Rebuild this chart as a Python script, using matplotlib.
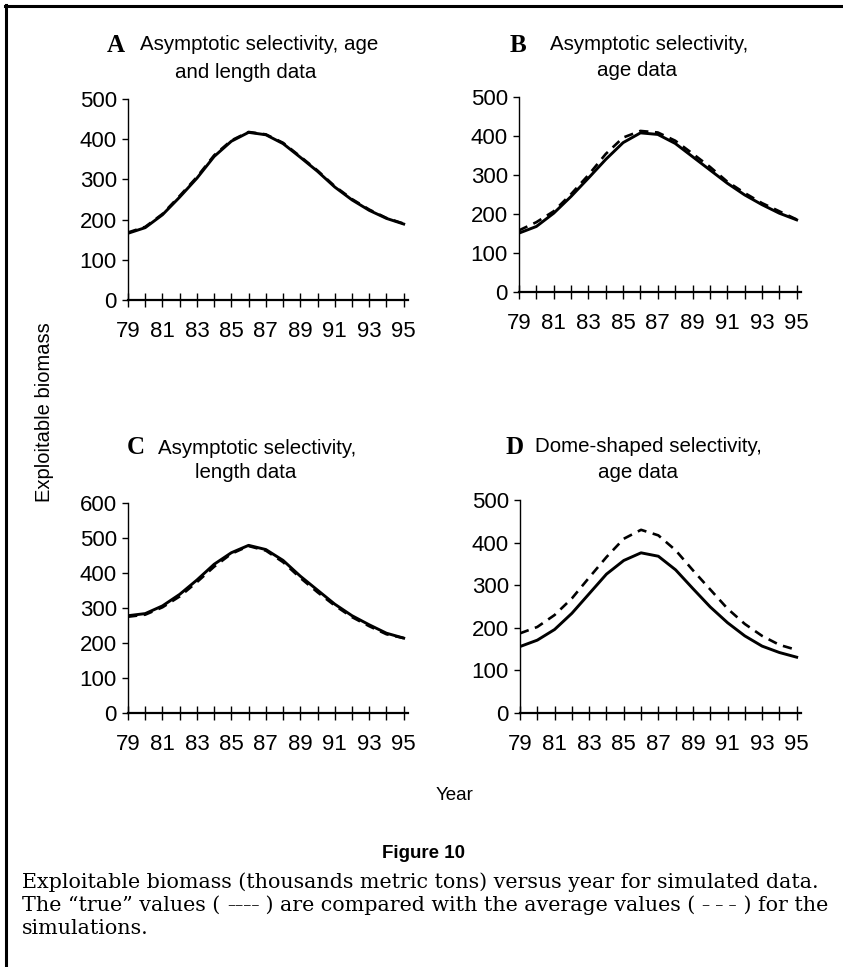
import matplotlib
matplotlib.use("Agg")
import matplotlib.pyplot as plt
from matplotlib.lines import Line2D

plt.rcParams['font.family'] = ['Liberation Sans', 'DejaVu Sans']

# data
years = list(range(79, 96))
a_true = [166, 180, 212, 256, 303, 357, 395, 417, 411, 389, 355, 320, 281, 249, 223, 203, 189]
a_avg = [168, 182, 214, 259, 306, 360, 397, 418, 412, 391, 357, 322, 283, 251, 225, 204, 190]
b_true = [151, 168, 202, 245, 292, 340, 383, 408, 404, 381, 347, 313, 279, 249, 224, 202, 185]
b_avg = [158, 179, 207, 251, 300, 354, 396, 413, 409, 388, 355, 321, 283, 254, 228, 207, 186]
c_true = [278, 284, 306, 339, 380, 425, 458, 479, 467, 436, 391, 351, 311, 278, 252, 228, 214]
c_avg = [275, 281, 302, 333, 374, 418, 455, 477, 464, 431, 386, 345, 307, 274, 248, 225, 214]
d_true = [156, 171, 196, 234, 280, 326, 358, 376, 368, 336, 292, 249, 212, 181, 157, 142, 131]
d_avg = [187, 202, 230, 269, 318, 366, 409, 430, 417, 382, 335, 290, 245, 209, 181, 160, 148]

W, H = 843, 967
fig = plt.figure(figsize=(W / 100, H / 100), dpi=100)


def fx(px):
    return px / W


def fy(py):
    return 1 - py / H


def panel(rect, true, avg, ymax):
    left, top, right, bottom = rect
    ax = fig.add_axes([fx(left), fy(bottom), fx(right) - fx(left), fy(top) - fy(bottom)])
    ax.plot(years, true, color='black', lw=2.1, solid_joinstyle='round')
    ax.plot(years, avg, color='black', lw=1.9, ls=(0, (3.5, 2.5)))
    ax.set_xlim(79, 95.25)
    ax.set_ylim(0, ymax)
    ax.spines['top'].set_visible(False)
    ax.spines['right'].set_visible(False)
    ax.spines['left'].set_bounds(0, ymax)
    ax.spines['left'].set_linewidth(1.0)
    ax.spines['bottom'].set_linewidth(1.6)
    ax.set_xticks(years[::2])
    ax.set_xticks(years[1::2], minor=True)
    ax.set_yticks(range(0, ymax + 1, 100))
    ax.tick_params(axis='x', which='both', direction='inout', length=10, width=1, pad=10, labelsize=16)
    ax.tick_params(axis='y', direction='out', length=4, width=1, pad=4, labelsize=16)
    ax.patch.set_alpha(0)
    return ax


panel((128, 99, 408, 300), a_true, a_avg, 500)
panel((519, 97, 801, 292), b_true, b_avg, 500)
panel((128, 503, 408, 713), c_true, c_avg, 600)
panel((520, 500, 801, 713), d_true, d_avg, 500)

# panel titles: bold serif letter + two lines of sans text
titles = [
    ('A', 116, 45, 'Asymptotic selectivity, age', 140, 'and length data', 246, 72),
    ('B', 518, 45, 'Asymptotic selectivity,', 550, 'age data', 637, 70),
    ('C', 136, 448, 'Asymptotic selectivity,', 158, 'length data', 246, 473),
    ('D', 515, 447, 'Dome-shaped selectivity,', 535, 'age data', 638, 472),
]
for letter, lx, ly, line1, tx, line2, cx, y2 in titles:
    fig.text(fx(lx), fy(ly), letter, family='Liberation Serif', weight='bold',
             fontsize=18, ha='center', va='center')
    fig.text(fx(tx), fy(ly), line1, fontsize=14.8, ha='left', va='center')
    fig.text(fx(cx), fy(y2), line2, fontsize=14.8, ha='center', va='center')

fig.text(fx(45), fy(412), 'Exploitable biomass', rotation=90, fontsize=14.5, ha='center', va='center')
fig.text(fx(455), fy(795), 'Year', fontsize=13.5, ha='center', va='center')

fig.text(fx(423), fy(853), 'Figure 10', fontsize=13.5, weight='bold', ha='center', va='center')

# caption, the dash samples set a little smaller so the line keeps its width
cap_size = 14.9
dash_size = 11.5
caption = [
    [('Exploitable biomass (thousands metric tons) versus year for simulated data.', cap_size)],
    [('The \u201ctrue\u201d values ( ', cap_size), ('\u2013\u2013\u2013\u2013', dash_size),
     (' ) are compared with the average values ( ', cap_size), ('\u2013 \u2013 \u2013', dash_size),
     (' ) for the', cap_size)],
    [('simulations.', cap_size)],
]
renderer = fig.canvas.get_renderer()
for i, pieces in enumerate(caption):
    x = 22
    for txt, size in pieces:
        t = fig.text(fx(x), fy(880 + 23.5 * i), txt, family='DejaVu Serif', fontsize=size,
                     ha='left', va='center_baseline')
        x += t.get_window_extent(renderer).width

# frame on the left and top
fig.add_artist(Line2D([fx(6), fx(6)], [0, fy(5)], color='black', lw=2.2))
fig.add_artist(Line2D([fx(5), 1], [fy(6), fy(6)], color='black', lw=2.2))

fig.savefig('out.png', dpi=100)
